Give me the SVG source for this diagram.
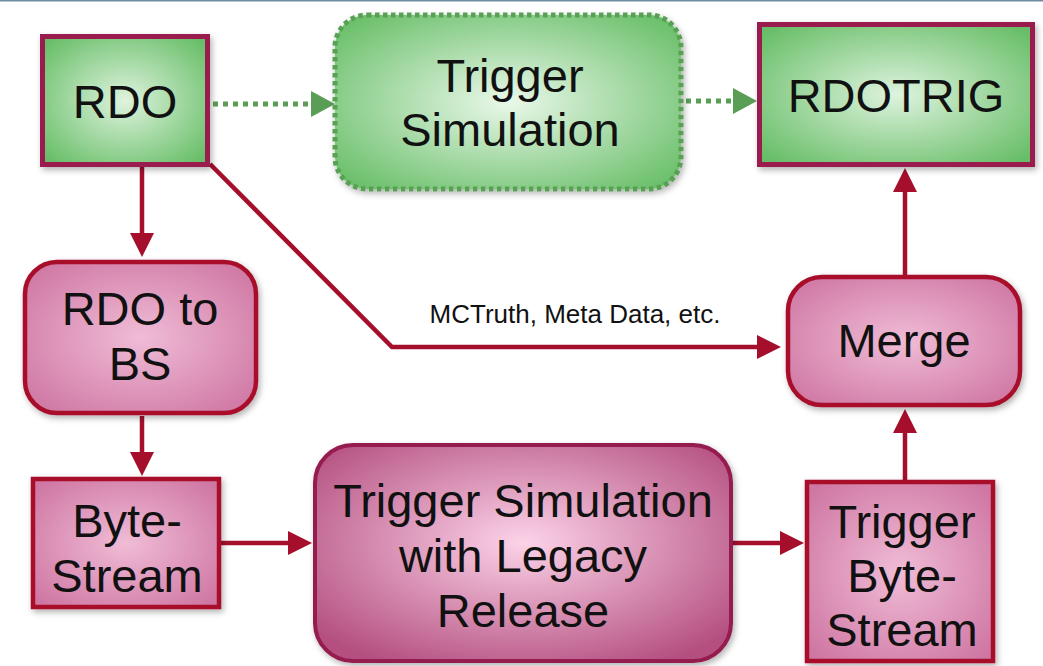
<svg xmlns="http://www.w3.org/2000/svg" width="1043" height="666" viewBox="0 0 1043 666">
<style>
.t{font-family:"Liberation Sans",Arial,sans-serif;font-size:47px;fill:#111;text-anchor:middle}
.lbl{font-family:"Liberation Sans",Arial,sans-serif;font-size:26px;fill:#111;text-anchor:middle}
.red{fill:none;stroke:#a50f2c;stroke-width:4.5}
.grn{fill:none;stroke:#5a9e55;stroke-width:5;stroke-dasharray:5 5}
.gbox{fill:url(#gG);stroke:#9a1a50;stroke-width:5}
.gdot{fill:url(#gG2);stroke:#58a052;stroke-width:5;stroke-dasharray:4.5 3.5}
.pbox{fill:url(#gP);stroke:#a8102c;stroke-width:4.5}
.lbox{fill:url(#gL);stroke:#951a4f;stroke-width:4}
</style>
<defs>
<radialGradient id="gG" cx="50%" cy="50%" r="65%">
<stop offset="0" stop-color="#def3de"/><stop offset="1" stop-color="#68be68"/>
</radialGradient>
<radialGradient id="gG2" cx="50%" cy="50%" r="65%">
<stop offset="0" stop-color="#eaf8ea"/><stop offset="1" stop-color="#6abf6a"/>
</radialGradient>
<radialGradient id="gP" cx="50%" cy="50%" r="65%">
<stop offset="0" stop-color="#f0bcd6"/><stop offset="1" stop-color="#cf77a3"/>
</radialGradient>
<radialGradient id="gL" cx="50%" cy="45%" r="65%">
<stop offset="0" stop-color="#fcd3e8"/><stop offset="1" stop-color="#b44f80"/>
</radialGradient>
<filter id="sh" x="-10%" y="-10%" width="125%" height="130%">
<feDropShadow dx="2" dy="3" stdDeviation="3" flood-color="#000" flood-opacity="0.3"/>
</filter>
<marker id="aR" viewBox="0 0 24 24" refX="0" refY="12" markerWidth="24" markerHeight="24" markerUnits="userSpaceOnUse" orient="auto">
<path d="M0,0 L24,12 L0,24 z" fill="#a50f2c"/>
</marker>
<marker id="aG" viewBox="0 0 24 26" refX="0" refY="13" markerWidth="24" markerHeight="26" markerUnits="userSpaceOnUse" orient="auto">
<path d="M0,0 L24,13 L0,26 z" fill="#5a9e55"/>
</marker>
</defs>
<rect x="0" y="0" width="1043" height="666" fill="#fff"/>
<line x1="0" y1="0.8" x2="1043" y2="0.8" stroke="#6f8ba0" stroke-width="1.6"/>

<g id="connectors">
<path class="red" d="M142 167 V233" marker-end="url(#aR)"/>
<path class="red" d="M142 416 V452" marker-end="url(#aR)"/>
<path class="red" d="M221 543 H288" marker-end="url(#aR)"/>
<path class="red" d="M733 543 H780" marker-end="url(#aR)"/>
<path class="red" d="M905 480 V433" marker-end="url(#aR)"/>
<path class="red" d="M905 275 V192" marker-end="url(#aR)"/>
<path class="red" d="M210 164 L392 347 H757" marker-end="url(#aR)"/>
<path class="grn" d="M213 104 H311" marker-end="url(#aG)"/>
<path class="grn" d="M686 101 H733" marker-end="url(#aG)"/>
<text class="lbl" x="575" y="323">MCTruth, Meta Data, etc.</text>
</g>

<g id="rdo">
<rect class="gbox" x="42.5" y="36.5" width="165" height="128" filter="url(#sh)"/>
<text class="t" x="125" y="118">RDO</text>
</g>

<g id="trigsim">
<rect class="gdot" x="335" y="15" width="346" height="174" rx="32" filter="url(#sh)"/>
<text class="t" x="510" y="92">Trigger</text>
<text class="t" x="510" y="146">Simulation</text>
</g>

<g id="rdotrig">
<rect class="gbox" x="759.5" y="24.5" width="273" height="140" filter="url(#sh)"/>
<text class="t" x="896" y="112">RDOTRIG</text>
</g>

<g id="rdotobs">
<rect class="pbox" x="25" y="262" width="231" height="151" rx="32" filter="url(#sh)"/>
<text class="t" x="140" y="325">RDO to</text>
<text class="t" x="140" y="380">BS</text>
</g>

<g id="bytestream">
<rect class="pbox" x="33" y="479" width="186" height="128" filter="url(#sh)"/>
<text class="t" x="127" y="537">Byte-</text>
<text class="t" x="127" y="592">Stream</text>
</g>

<g id="legacy">
<rect class="lbox" x="315" y="445" width="416" height="216" rx="38" filter="url(#sh)"/>
<text class="t" x="523" y="517">Trigger Simulation</text>
<text class="t" x="523" y="572">with Legacy</text>
<text class="t" x="523" y="627">Release</text>
</g>

<g id="trigbytestream">
<rect class="pbox" x="807" y="482" width="186" height="179" filter="url(#sh)"/>
<text class="t" x="902" y="538">Trigger</text>
<text class="t" x="902" y="592">Byte-</text>
<text class="t" x="902" y="646">Stream</text>
</g>

<g id="merge">
<rect class="pbox" x="788" y="277" width="232" height="128" rx="34" filter="url(#sh)"/>
<text class="t" x="904" y="357">Merge</text>
</g>
</svg>
